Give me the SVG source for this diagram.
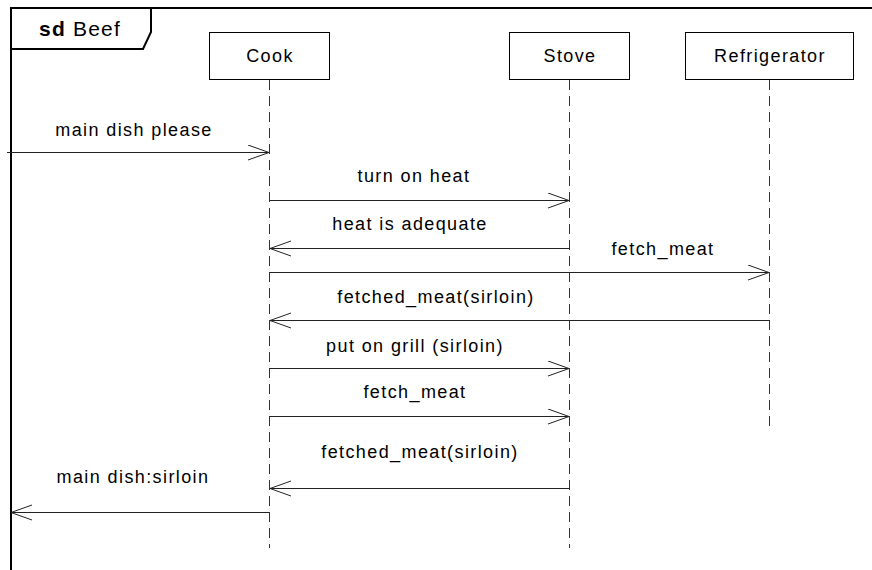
<svg xmlns="http://www.w3.org/2000/svg" width="872" height="570" viewBox="0 0 872 570">
<defs>
<style>
text{font-family:"Liberation Sans",Arial,sans-serif;font-size:18px;letter-spacing:1.4px;fill:#000}
.lbl{text-anchor:middle}
.title{font-size:21px;letter-spacing:1.2px}
.box{fill:#fff;stroke:#000;stroke-width:1}
.life{stroke:#333;stroke-width:1;stroke-dasharray:10 6;fill:none}
.msg{stroke:#222;stroke-width:1;fill:none;marker-end:url(#open)}
.frame{stroke:#000;stroke-width:2;fill:none}
</style>
<marker id="open" markerUnits="userSpaceOnUse" markerWidth="24" markerHeight="18" refX="22" refY="8" orient="auto">
<path d="M1,0.5 L22,8 L1,15.5" fill="none" stroke="#222" stroke-width="1"/>
</marker>
</defs>
<rect width="872" height="570" fill="#fff"/>
<g id="frame">
<path class="frame" d="M11,570 L11,8 L872,8"/>
<path class="frame" d="M151,8 L151,32 L143,49 L11,49"/>
<text class="title" x="39" y="36"><tspan font-weight="bold">sd</tspan> Beef</text>
</g>
<g id="cook">
<rect class="box" x="209.5" y="32.5" width="120" height="47"/>
<text class="lbl" x="270" y="62">Cook</text>
<line class="life" x1="269.5" y1="80" x2="269.5" y2="548"/>
</g>
<g id="stove">
<rect class="box" x="509.5" y="32.5" width="120" height="47"/>
<text class="lbl" x="570" y="62">Stove</text>
<line class="life" x1="569.5" y1="80" x2="569.5" y2="548"/>
</g>
<g id="refrigerator">
<rect class="box" x="685.5" y="32.5" width="168" height="47"/>
<text class="lbl" x="770" y="62">Refrigerator</text>
<line class="life" x1="769.5" y1="80" x2="769.5" y2="428"/>
</g>
<g id="connectors">
<line class="msg" x1="7" y1="152.5" x2="269" y2="152.5"/>
<text class="lbl" x="134" y="136">main dish please</text>
<line class="msg" x1="269.5" y1="200.5" x2="569" y2="200.5"/>
<text class="lbl" x="414" y="182">turn on heat</text>
<line class="msg" x1="569.5" y1="248.5" x2="270" y2="248.5"/>
<text class="lbl" x="410" y="230">heat is adequate</text>
<line class="msg" x1="269.5" y1="272.5" x2="769" y2="272.5"/>
<text class="lbl" x="663" y="255">fetch_meat</text>
<line class="msg" x1="769.5" y1="320.5" x2="270" y2="320.5"/>
<text class="lbl" x="436" y="303">fetched_meat(sirloin)</text>
<line class="msg" x1="269.5" y1="368.5" x2="569" y2="368.5"/>
<text class="lbl" x="415" y="352">put on grill (sirloin)</text>
<line class="msg" x1="269.5" y1="416.5" x2="569" y2="416.5"/>
<text class="lbl" x="415" y="398">fetch_meat</text>
<line class="msg" x1="569.5" y1="488.5" x2="270" y2="488.5"/>
<text class="lbl" x="420" y="458">fetched_meat(sirloin)</text>
<line class="msg" x1="269.5" y1="512.5" x2="11" y2="512.5"/>
<text class="lbl" x="133" y="483">main dish:sirloin</text>
</g>
</svg>
